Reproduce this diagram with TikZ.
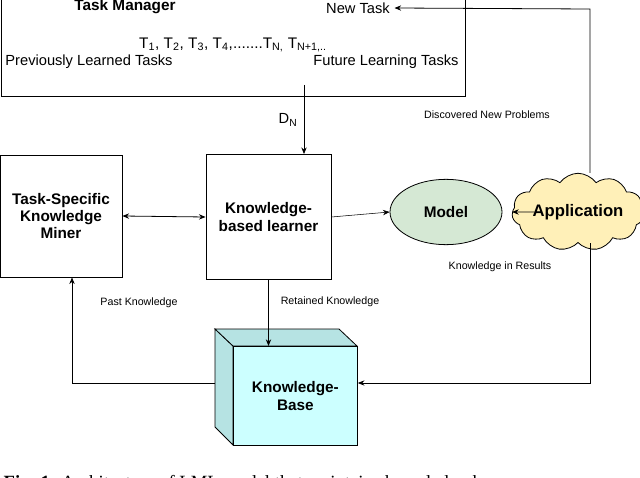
\documentclass[tikz,border=0pt]{standalone}
\usepackage{fontspec}
\setmainfont{Liberation Sans}
\newfontfamily\capfont{Liberation Serif}
\usetikzlibrary{shapes.geometric,shapes.symbols,arrows.meta}
\definecolor{kbfront}{HTML}{CCFFFF}
\definecolor{kbside}{HTML}{B6E3E3}
\definecolor{modelfill}{HTML}{D5E8D4}
\definecolor{appfill}{HTML}{FFF0B8}
\begin{document}
\begin{tikzpicture}[x=0.75pt,y=-0.75pt,
  big/.style={font=\fontsize{11.5}{13}\selectfont\bfseries,align=center},
  med/.style={font=\fontsize{11}{13}\selectfont},
  sml/.style={font=\fontsize{8}{10}\selectfont},
  arr/.style={-{Stealth[length=5pt,width=4pt]},line width=0.6pt},
  ln/.style={line width=0.6pt}]
\useasboundingbox (0,0) rectangle (640,478);
\begin{scope}
\clip (0,0) rectangle (640,478);
% task manager
\draw[ln] (1,-5) rectangle (465,96);
\node[big] (tm) at (125,7) {Task Manager};
\node[med] (nt) at (358,8) {New Task};
\node[med,font=\fontsize{11.5}{13}\selectfont] (seq) at (233,45) {T\textsubscript{1}, T\textsubscript{2}, T\textsubscript{3}, T\textsubscript{4},.......T\textsubscript{N,} T\textsubscript{N+1,..}};
\node[med] (plt) at (89,62) {Previously Learned Tasks};
\node[med] (flt) at (386,62) {Future Learning Tasks};
\coordinate (dnstart) at (304,85);
% boxes
\node[draw,ln,minimum width=91.5pt,minimum height=91.5pt,big] (miner) at (61,216) {Task-Specific\\Knowledge\\Miner};
\node[draw,ln,minimum width=93.75pt,minimum height=93.75pt,big] (learner) at (268.5,217) {Knowledge-\\based learner};
\node[ellipse,draw,ln,fill=modelfill,minimum width=84pt,minimum height=49pt,big] (model) at (446,212) {Model};
\node[cloud,draw,ln,fill=appfill,cloud puffs=11,cloud puff arc=110,aspect=2.1,minimum width=90pt,minimum height=49pt,inner sep=0pt,big,font=\fontsize{12.5}{14}\selectfont\bfseries] (app) at (578,212) {Application};
% cube
\fill[kbside,draw=black,ln] (215,329) -- (233,346) -- (233,445) -- (215,427) -- cycle;
\fill[kbside,draw=black,ln] (215,329) -- (339,329) -- (357,346) -- (233,346) -- cycle;
\node[draw,ln,fill=kbfront,minimum width=93pt,minimum height=74.25pt,big,anchor=north west] (kb) at (233,346) {Knowledge-\\Base};
% connectors
\draw[arr] (dnstart) -- (learner.north -| dnstart);
\node[med] (dn) at (288,120) {D\textsubscript{N}};
\draw[{Stealth[length=5pt,width=4pt]}-{Stealth[length=5pt,width=4pt]},line width=0.6pt] (miner.east) -- (learner.west);
\draw[arr,line width=0.4pt] (learner.east) -- (model.west);
\draw[arr] (model.east)++(32,0) -- (app.west);
\draw[arr] (learner.south) -- (kb.north -| learner.south);
\node[sml] (rk) at (330,302) {Retained Knowledge};
\coordinate (rl) at (72,383);
\draw[arr] (215,383) -- (rl) -- (miner.south -| rl);
\node[sml] (pk) at (139,303) {Past Knowledge};
\coordinate (rt) at (590,9);
\coordinate (rb) at (590,383);
\draw[arr] (app.north -| rt) -- (rt) -- (nt.east);
\draw[arr] (app.south -| rb) -- (rb) -- (kb.east |- rb);
\node[sml] (dnp) at (487,115) {Discovered New Problems};
\node[sml] (kr) at (500,267) {Knowledge in Results};
\node[anchor=west,font=\capfont\fontsize{14}{16}\selectfont] (cap) at (-1,484) {\textbf{Fig. 1}: Architecture of LML model that maintains knowledge-base};
\end{scope}
\end{tikzpicture}
\end{document}
